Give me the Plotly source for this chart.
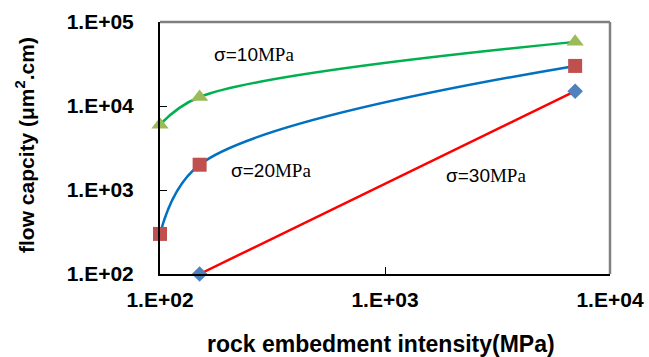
import plotly.graph_objects as go

x10 = [100, 150, 7000]
y10 = [6000, 12800, 58000]
x20 = [100, 150, 7000]
y20 = [300, 2000, 30000]
x30 = [150, 7000]
y30 = [100, 15000]
xticks = [100, 1000, 10000]
xticklabels = ["1.E+02", "1.E+03", "1.E+04"]
yticks = [100, 1000, 10000, 100000]
yticklabels = ["1.E+02", "1.E+03", "1.E+04", "1.E+05"]
series_labels = ["σ=10", "σ=20", "σ=30"]
x_title = "rock embedment intensity(MPa)"
y_title = "flow capcity (μm<sup>2</sup>.cm)"

fig = go.Figure()
fig.add_trace(go.Scatter(x=x10, y=y10, mode="lines+markers",
                         line=dict(color="#00B050", width=2.5, shape="spline", smoothing=1),
                         marker=dict(symbol="triangle-up", size=15, color="#9BBB59"),
                         cliponaxis=False))
fig.add_trace(go.Scatter(x=x20, y=y20, mode="lines+markers",
                         line=dict(color="#0070C0", width=2.5, shape="spline", smoothing=1),
                         marker=dict(symbol="square", size=14, color="#C0504D"),
                         cliponaxis=False))
fig.add_trace(go.Scatter(x=x30, y=y30, mode="lines+markers",
                         line=dict(color="#FF0000", width=2.5),
                         marker=dict(symbol="diamond", size=12, color="#4F81BD"),
                         cliponaxis=False))

fig.update_layout(
    width=649, height=357,
    margin=dict(l=160, r=39, t=22, b=83),
    paper_bgcolor="white", plot_bgcolor="white",
    showlegend=False,
    font=dict(family="Liberation Sans, Arial", color="black"),
)
tickfont = dict(size=21, family="Liberation Sans, Arial", weight="bold", color="black")
fig.update_xaxes(type="log", range=[2, 4], tickvals=xticks, ticktext=xticklabels,
                 automargin=False, showgrid=False, zeroline=False,
                 showline=True, linecolor="black", linewidth=2,
                 ticks="inside", ticklen=7, tickwidth=1, tickcolor="black",
                 tickfont=tickfont, ticklabelstandoff=6)
fig.update_yaxes(type="log", range=[2, 5], tickvals=yticks, ticktext=yticklabels,
                 automargin=False, showgrid=False, zeroline=False,
                 showline=True, linecolor="black", linewidth=2,
                 ticks="inside", ticklen=7, tickwidth=1, tickcolor="black",
                 tickfont=tickfont, ticklabelstandoff=20)

fig.add_shape(type="line", xref="paper", yref="paper", x0=0, x1=1, y0=1, y1=1,
              line=dict(color="#808080", width=2.5))
fig.add_shape(type="line", xref="paper", yref="paper", x0=1, x1=1, y0=0, y1=1,
              line=dict(color="#808080", width=2.5))

# axis titles
fig.add_annotation(xref="paper", yref="paper", x=(381 - 160) / 450, y=-(344 - 274) / 252,
                   text="<b>" + x_title + "</b>", showarrow=False,
                   font=dict(size=23, family="Liberation Sans, Arial"),
                   xanchor="center", yanchor="middle")
fig.add_annotation(xref="paper", yref="paper", x=-(160 - 25) / 450, y=(274 - 145) / 252,
                   text="<b>" + y_title + "</b>", showarrow=False, textangle=-90,
                   font=dict(size=21, family="Liberation Sans, Arial"),
                   xanchor="center", yanchor="middle")

ann_pos = [(254, 55), (271, 170), (486, 175)]
for txt, (px, py) in zip(series_labels, ann_pos):
    fig.add_annotation(xref="paper", yref="paper",
                       x=(px - 160) / 450, y=(274 - py) / 252,
                       text=txt + '<span style="font-family:\'Liberation Serif\'">MPa</span>',
                       showarrow=False, font=dict(size=19, family="Liberation Sans, Arial"),
                       xanchor="center", yanchor="middle")

fig.write_html("out.html", config={"displayModeBar": False},
               post_script="document.body.style.margin='0';document.body.style.overflow='hidden';")
